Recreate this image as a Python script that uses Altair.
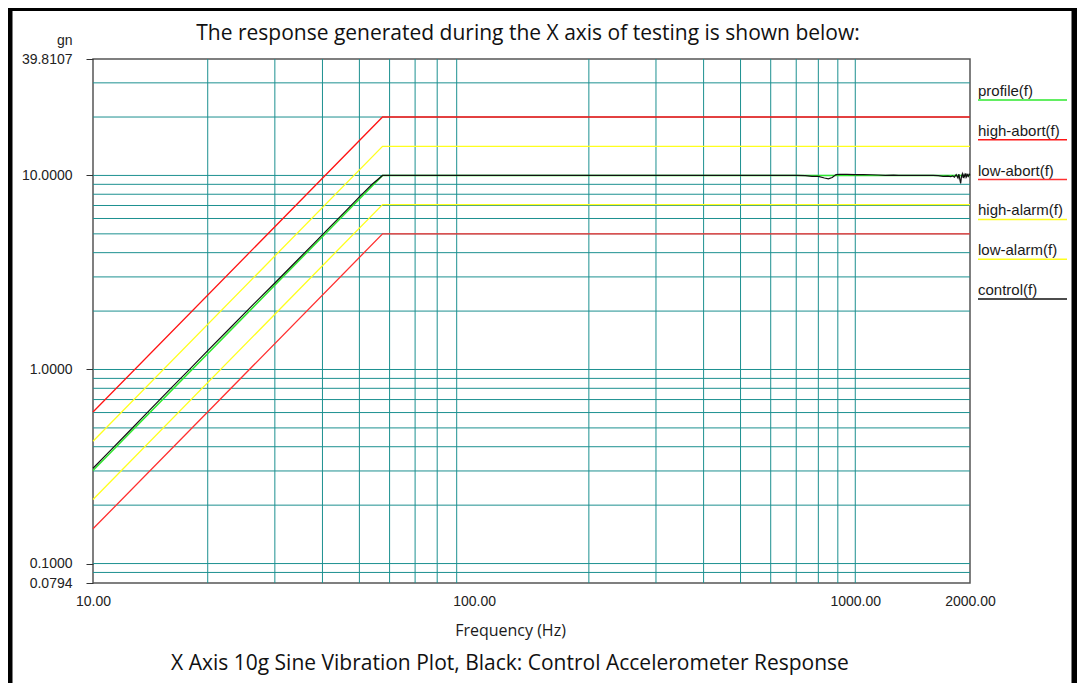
import altair as alt
import pandas as pd

# ---------------- data ----------------
title_text = "The response generated during the X axis of testing is shown below:"
caption_text = "X Axis 10g Sine Vibration Plot, Black: Control Accelerometer Response"

series_names = ["profile(f)", "high-abort(f)", "low-abort(f)",
                "high-alarm(f)", "low-alarm(f)", "control(f)"]
series_colors = ["#2ee82e", "#ff1414", "#ff3030", "#ffff1e", "#ffff1e", "#111111"]

# limit / profile lines (frequency breakpoints, g values)
limit_freq = [10.0, 57.5, 2000.0]
profile_vals = [0.302, 10.0, 10.0]
high_abort_vals = [0.604, 20.0, 20.0]
low_abort_vals = [0.151, 5.0, 5.0]
high_alarm_vals = [0.427, 14.13, 14.13]
low_alarm_vals = [0.214, 7.08, 7.08]

# measured control accelerometer response
control_freq = [10, 11, 12.5, 14, 16, 18, 20, 23, 26, 30, 34, 38, 42, 46, 50, 54,
                57.5, 60, 70, 80, 100, 130, 160, 200, 250, 300, 400, 500, 600, 650,
                700, 740, 770, 800, 830, 850, 870, 890, 910, 950, 1000, 1050, 1100,
                1150, 1200, 1260, 1300, 1400, 1500, 1600, 1650, 1700, 1750, 1780,
                1800, 1820, 1840, 1860, 1870, 1880, 1890, 1900, 1910, 1920, 1930,
                1940, 1950, 1960, 1970, 1980, 1990, 2000]
control_vals = [0.31, 0.375, 0.485, 0.61, 0.80, 1.01, 1.25, 1.65, 2.11, 2.79, 3.58,
                4.47, 5.46, 6.55, 7.75, 9.0,
                10.0, 10.0, 10.0, 10.0, 10.0, 10.0, 10.0, 10.0, 10.0, 10.0, 10.0,
                10.0, 10.0, 10.0,
                10.0, 9.98, 9.9, 9.88, 9.7, 9.6, 9.75, 10.1, 10.12, 10.12, 10.1,
                10.1, 10.08, 10.05, 10.0, 10.03, 10.0, 10.0, 10.0, 10.0, 9.98, 9.9,
                9.92, 9.85, 9.95, 9.8, 10.1, 9.7, 10.15, 9.6, 9.1, 9.9, 10.2, 9.7,
                10.1, 9.8, 10.25, 9.85, 10.1, 9.9, 10.15, 10.0]

# grid lines and axis labels
y_grid = [0.09, 0.1, 0.2, 0.3, 0.4, 0.5, 0.6, 0.7, 0.8, 0.9,
          1, 2, 3, 4, 5, 6, 7, 8, 9, 10, 20, 30]
x_grid = [20, 30, 40, 50, 60, 70, 80, 90, 200, 300, 400, 500, 600, 700, 800, 900, 1000]
y_label_vals = [0.0794, 0.1, 1.0, 10.0, 39.8107]
x_label_vals = [10, 100, 1000, 2000]
y_domain = [0.0794, 39.8107]
x_domain = [10, 2000]

# ---------------- tables ----------------
limit_rows = []
for name, vals in [("high-abort(f)", high_abort_vals), ("low-abort(f)", low_abort_vals),
                   ("high-alarm(f)", high_alarm_vals), ("low-alarm(f)", low_alarm_vals)]:
    for f, v in zip(limit_freq, vals):
        limit_rows.append({"series": name, "freq": f, "value": v})
limits_df = pd.DataFrame(limit_rows)
profile_df = pd.DataFrame({"series": "profile(f)", "freq": limit_freq, "value": profile_vals})
control_df = pd.DataFrame({"series": "control(f)", "freq": control_freq, "value": control_vals})
ygrid_df = pd.DataFrame({"value": y_grid})
xgrid_df = pd.DataFrame({"freq": x_grid})
legend_df = pd.DataFrame({"series": series_names})

# ---------------- scales / axes ----------------
LABEL_FONT = "Liberation Sans"
TITLE_FONT = "Open Sans"
GRID = "#1c9090"

xscale = alt.Scale(type="log", domain=x_domain, nice=False)
yscale = alt.Scale(type="log", domain=y_domain, nice=False)
color_scale = alt.Scale(domain=series_names, range=series_colors)

xaxis = alt.Axis(values=x_label_vals, format=".2f", ticks=False, tickSize=0, domain=False,
                 grid=False, labelFont=LABEL_FONT, labelFontSize=14, labelColor="#222222",
                 labelPadding=11, labelFlush=False, labelOverlap=False,
                 title="Frequency (Hz)", titleFont=TITLE_FONT, titleFontSize=16,
                 titleFontWeight="normal", titleColor="#1a1a1a",
                 titleX=417, titleY=47, titleAlign="center", titleBaseline="middle")
yaxis = alt.Axis(values=y_label_vals, format=".4f", tickSize=7, tickColor="#333333",
                 domain=False, grid=False, labelFont=LABEL_FONT, labelFontSize=14,
                 labelColor="#222222", labelPadding=14, labelFlush=False,
                 labelOverlap=False, title="gn", titleAngle=0, titleX=-21, titleY=-15,
                 titleAlign="right", titleBaseline="alphabetic", titleFont=LABEL_FONT,
                 titleFontSize=14, titleFontWeight="normal", titleColor="#222222")

X = lambda: alt.X("freq:Q", scale=xscale, axis=xaxis)
Y = lambda: alt.Y("value:Q", scale=yscale, axis=yaxis)

hgrid = alt.Chart(ygrid_df).mark_rule(color=GRID, strokeWidth=1).encode(y=Y())
vgrid = alt.Chart(xgrid_df).mark_rule(color=GRID, strokeWidth=1).encode(x=X())

limits = alt.Chart(limits_df).mark_line(strokeWidth=1.3).encode(
    x=X(), y=Y(), detail="series:N",
    color=alt.Color("series:N", scale=color_scale, legend=None))
profile = alt.Chart(profile_df).mark_line(strokeWidth=1.5).encode(
    x=X(), y=Y(), color=alt.Color("series:N", scale=color_scale, legend=None))
control = alt.Chart(control_df).mark_line(strokeWidth=1.2).encode(
    x=X(), y=Y(), color=alt.Color("series:N", scale=color_scale, legend=None))

plot = alt.layer(hgrid, vgrid, limits, profile, control)

# legend on the right: text over a coloured underline
leg_scale = alt.Scale(type="point", domain=series_names, range=[41, 240], padding=0)
leg_text = alt.Chart(legend_df).mark_text(
    align="left", baseline="alphabetic", dy=-4, font=LABEL_FONT, fontSize=15,
    color="#1a1a1a").encode(
    x=alt.value(885), y=alt.Y("series:N", scale=leg_scale, axis=None), text="series:N")
leg_line = alt.Chart(legend_df).mark_rule(strokeWidth=1.5).encode(
    x=alt.value(885), x2=alt.value(974),
    y=alt.Y("series:N", scale=leg_scale, axis=None),
    color=alt.Color("series:N", scale=color_scale, legend=None))
legend = alt.layer(leg_text, leg_line)

# titles
title = alt.Chart(pd.DataFrame({"t": [title_text]})).mark_text(
    font=TITLE_FONT, fontSize=21, align="center", baseline="alphabetic",
    color="#111111").encode(x=alt.value(435), y=alt.value(-19), text="t:N")
caption = alt.Chart(pd.DataFrame({"t": [caption_text]})).mark_text(
    font=TITLE_FONT, fontSize=21, align="center", baseline="alphabetic",
    color="#111111").encode(x=alt.value(417), y=alt.value(611), text="t:N")

# outer black frame of the picture
frame = alt.Chart(pd.DataFrame({"k": [0]})).mark_rect(
    filled=False, stroke="black", strokeWidth=7).encode(
    x=alt.value(-84), x2=alt.value(982), y=alt.value(-51.5), y2=alt.value(700))

chart = alt.layer(plot, legend, title, caption, frame).resolve_scale(
    y="independent").properties(
    width=877, height=524,
    autosize=alt.AutoSizeParams(type="none"),
    padding={"left": 85, "top": 51, "right": 107, "bottom": 100},
    background="white",
).configure_view(stroke="#555555", strokeWidth=1.5)

chart.save("out.html", embed_options={"renderer": "svg", "actions": False})
